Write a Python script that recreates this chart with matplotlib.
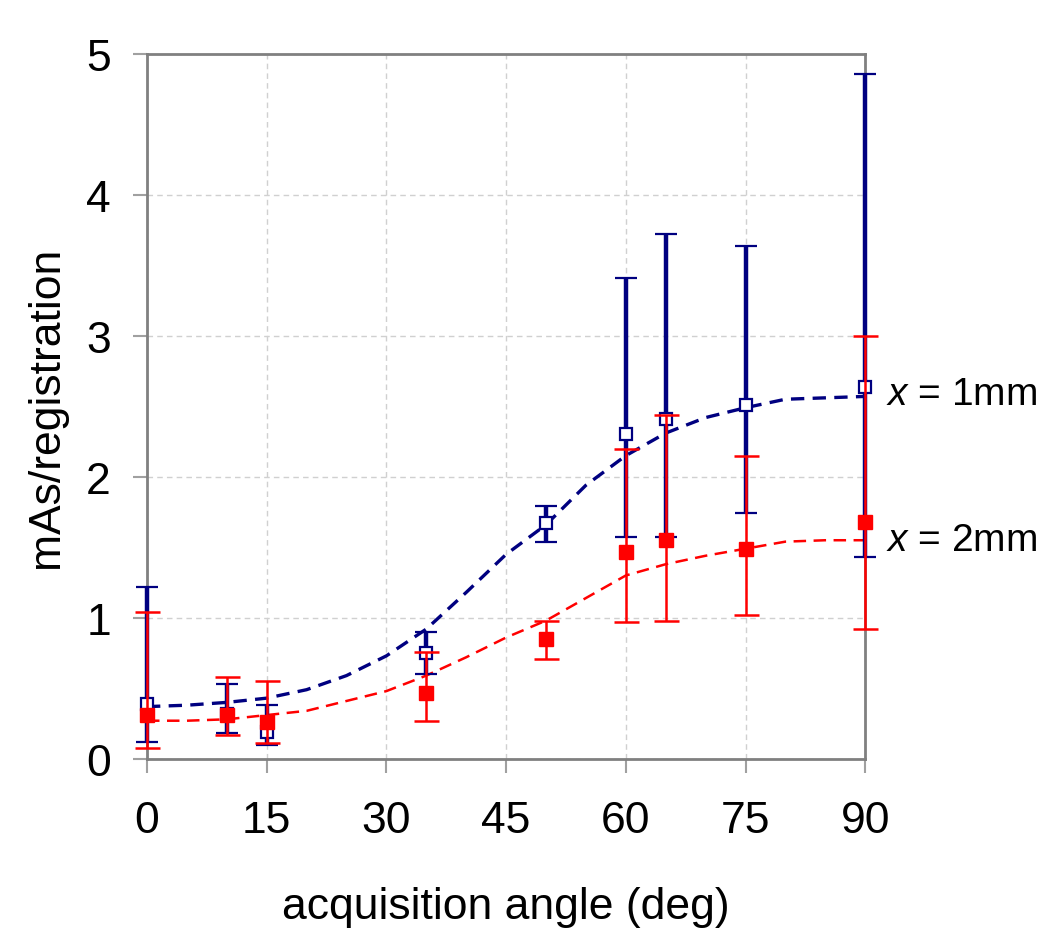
import numpy as np
import matplotlib
matplotlib.use("Agg")
import matplotlib.pyplot as plt

plt.rcParams["font.family"] = ["Liberation Sans", "DejaVu Sans"]
plt.rcParams["mathtext.fontset"] = "custom"
plt.rcParams["mathtext.it"] = "Liberation Sans:italic"
plt.rcParams["mathtext.rm"] = "Liberation Sans"

# measured points (angle in deg, mAs/registration)
angles = [0, 10, 15, 35, 50, 60, 65, 75, 90]

mas_1mm = [0.39, 0.32, 0.19, 0.75, 1.67, 2.30, 2.41, 2.51, 2.64]
top_1mm = [1.22, 0.53, 0.38, 0.90, 1.79, 3.41, 3.72, 3.64, 4.86]
low_1mm = [0.12, 0.18, 0.10, 0.60, 1.54, 1.57, 1.57, 1.74, 1.43]

mas_2mm = [0.31, 0.31, 0.26, 0.47, 0.85, 1.47, 1.55, 1.49, 1.68]
top_2mm = [1.04, 0.58, 0.55, 0.76, 0.98, 2.20, 2.44, 2.15, 3.00]
low_2mm = [0.08, 0.17, 0.11, 0.27, 0.71, 0.97, 0.98, 1.02, 0.92]

# fitted curves
fit_angles = [0, 5, 10, 15, 20, 25, 30, 35, 40, 45, 50, 55, 60, 65, 70, 75, 80, 85, 90]
fit_1mm = [0.37, 0.38, 0.40, 0.43, 0.49, 0.59, 0.73, 0.92, 1.18, 1.45, 1.66, 1.94, 2.15,
           2.31, 2.42, 2.49, 2.55, 2.56, 2.57]
fit_2mm = [0.27, 0.27, 0.28, 0.31, 0.34, 0.41, 0.48, 0.59, 0.72, 0.86, 0.98, 1.14, 1.30,
           1.38, 1.44, 1.49, 1.54, 1.55, 1.55]

navy = "#000080"
red = "#ff0000"

fig = plt.figure(figsize=(10.5, 9.45), dpi=100)
ax = fig.add_axes([0.14, 0.196, 0.684, 0.746])

ax.plot(fit_angles, fit_1mm, color=navy, lw=2.4, ls=(0, (4, 2.5)), zorder=2)
ax.plot(fit_angles, fit_2mm, color=red, lw=1.8, ls=(0, (5, 3)), zorder=2)

m1 = np.array(mas_1mm)
eb1 = ax.errorbar(angles, mas_1mm,
                  yerr=[m1 - np.array(low_1mm), np.array(top_1mm) - m1],
                  fmt="s", mfc="white", mec=navy, mew=1.6, ms=8.5,
                  ecolor=navy, elinewidth=3.2, capsize=8, capthick=4, zorder=3)

m2 = np.array(mas_2mm)
eb2 = ax.errorbar(angles, mas_2mm,
                  yerr=[m2 - np.array(low_2mm), np.array(top_2mm) - m2],
                  fmt="s", mfc=red, mec=red, ms=10,
                  ecolor=red, elinewidth=1.8, capsize=9, capthick=1.8, zorder=4)

# let markers and caps on x=0 / x=90 spill over the frame
for eb in (eb1, eb2):
    for art in eb.get_children():
        art.set_clip_on(False)

ax.text(92.6, 2.59, "$x$ = 1mm", fontsize=28, va="center", ha="left", clip_on=False)
ax.text(92.6, 1.55, "$x$ = 2mm", fontsize=28, va="center", ha="left", clip_on=False)

ax.set_xlim(0, 90)
ax.set_ylim(0, 5)
ax.set_xticks(range(0, 91, 15))
ax.set_yticks(range(0, 6))
ax.grid(True, color="#d0d0d0", ls=(0, (4, 3)), lw=1)
ax.set_axisbelow(True)
for s in ax.spines.values():
    s.set_color("#808080")
    s.set_linewidth(2)
ax.tick_params(direction="out", length=10, width=1.5, color="#a0a0a0", labelsize=32)
ax.tick_params(axis="x", pad=20)
ax.tick_params(axis="y", pad=16)

ax.set_xlabel("acquisition angle (deg)", fontsize=32, labelpad=32)
ax.set_ylabel("mAs/registration", fontsize=32, labelpad=14)

fig.savefig("out.png", dpi=100)
